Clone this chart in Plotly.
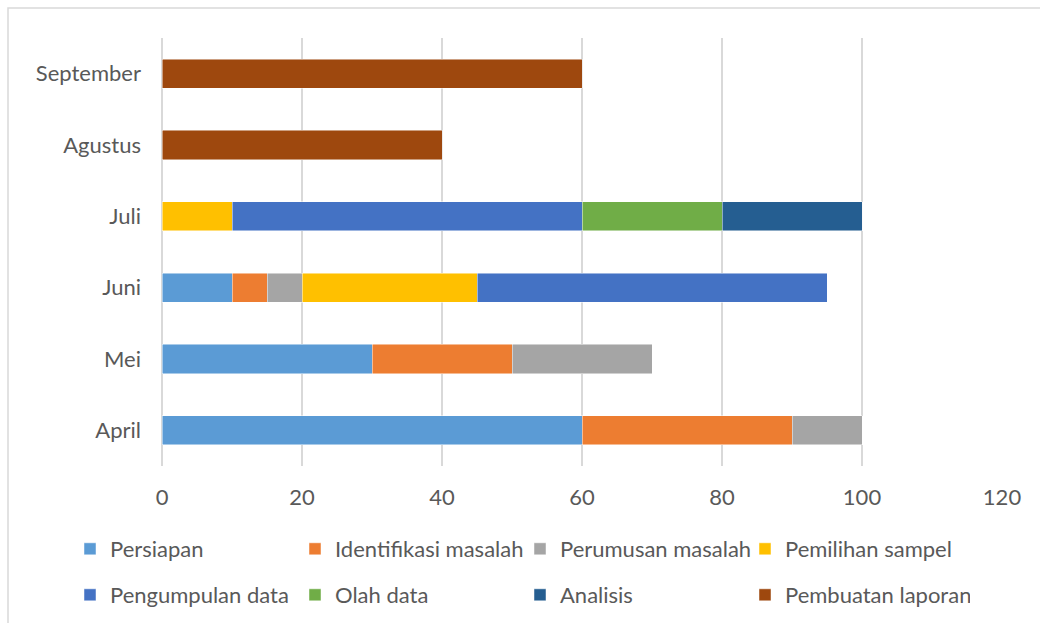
import plotly.graph_objects as go

months = ["April", "Mei", "Juni", "Juli", "Agustus", "September"]
series_names = ["Persiapan", "Identifikasi masalah", "Perumusan masalah", "Pemilihan sampel",
                "Pengumpulan data", "Olah data", "Analisis", "Pembuatan laporan"]
persiapan = [60, 30, 10, 0, 0, 0]
identifikasi = [30, 20, 5, 0, 0, 0]
perumusan = [10, 20, 5, 0, 0, 0]
pemilihan = [0, 0, 25, 10, 0, 0]
pengumpulan = [0, 0, 50, 50, 0, 0]
olah = [0, 0, 0, 20, 0, 0]
analisis = [0, 0, 0, 20, 0, 0]
laporan = [0, 0, 0, 0, 40, 60]
x_ticks = [0, 20, 40, 60, 80, 100, 120]

values = [persiapan, identifikasi, perumusan, pemilihan, pengumpulan, olah, analisis, laporan]
colors = ["#5B9BD5", "#ED7D31", "#A5A5A5", "#FFC000", "#4472C4", "#70AD47", "#255E91", "#9E480E"]

FONT = "Lato"
FS = 22
fig = go.Figure()
for i, (name, vals, col) in enumerate(zip(series_names, values, colors)):
    fig.add_trace(go.Bar(
        y=months, x=vals, name=name, orientation="h",
        marker=dict(color=col, line=dict(color="rgba(255,255,255,0.6)", width=0.8)),
        legend="legend" if i < 4 else "legend2",
    ))

W, H = 1040, 623
L, R, T, B = 162, 38, 38, 157
pw, ph = W - L - R, H - T - B

def px_to_paper_x(px):
    return (px - L) / pw

def px_to_paper_y(py):
    return (H - B - py) / ph

legend_common = dict(
    orientation="h", xanchor="left", yanchor="middle",
    entrywidth=180, entrywidthmode="pixels",
    font=dict(family=FONT, size=FS, color="#595959"),
    bgcolor="rgba(0,0,0,0)", traceorder="normal",
    itemclick=False, itemdoubleclick=False,
)

fig.update_layout(
    width=W, height=H,
    margin=dict(l=L, r=R, t=T, b=B, autoexpand=False),
    paper_bgcolor="white", plot_bgcolor="white",
    barmode="stack", bargap=0.59,
    font=dict(family=FONT, size=FS, color="#595959"),
    xaxis=dict(range=[0, 120], tickvals=x_ticks, showgrid=True, gridcolor="#D9D9D9", gridwidth=1.5,
               zeroline=True, zerolinecolor="#D9D9D9", zerolinewidth=1.5,
               showline=False, ticks="", ticklabelstandoff=16, fixedrange=True),
    yaxis=dict(categoryorder="array", categoryarray=months, showgrid=False, showline=False,
               ticks="", ticklabelstandoff=20, fixedrange=True),
    legend=dict(x=px_to_paper_x(70), y=px_to_paper_y(549), **legend_common),
    legend2=dict(x=px_to_paper_x(70), y=px_to_paper_y(595), **legend_common),
    shapes=[dict(type="rect", xref="paper", yref="paper",
                 x0=px_to_paper_x(8), x1=px_to_paper_x(1100),
                 y0=px_to_paper_y(700), y1=px_to_paper_y(8),
                 line=dict(color="#D9D9D9", width=1.5), fillcolor="rgba(0,0,0,0)", layer="below")],
)

fig.write_html("out.html")
